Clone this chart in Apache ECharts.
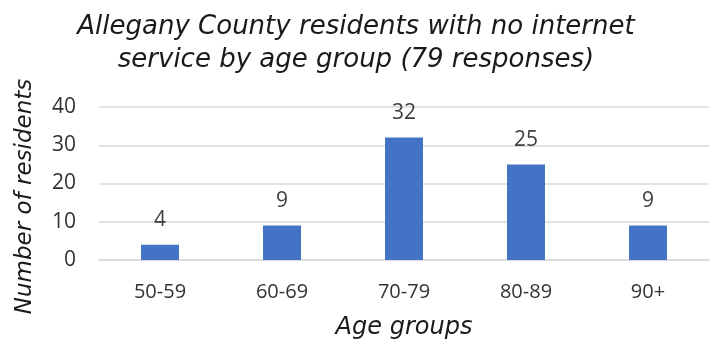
<!DOCTYPE html>
<html>
<head>
<meta charset="utf-8">
<script src="https://cdn.jsdelivr.net/npm/echarts@6/dist/echarts.min.js"></script>
<style>
  html, body { margin: 0; padding: 0; background: #fff; }
  #chart { width: 712px; height: 346px; }
</style>
</head>
<body>
<div id="chart"></div>
<script>
  var ageGroups = ['50-59', '60-69', '70-79', '80-89', '90+'];
  var residents = [4, 9, 32, 25, 9];

  var chart = echarts.init(document.getElementById('chart'));
  chart.setOption({
    title: {
      text: 'Allegany County residents with no internet\nservice by age group (79 responses)',
      left: 'center',
      top: 6,
      textStyle: {
        fontFamily: 'DejaVu Sans',
        fontStyle: 'italic',
        fontWeight: 'normal',
        fontSize: 26,
        lineHeight: 33,
        color: '#1a1a1a'
      }
    },
    grid: { left: 99, right: 3, top: 107, bottom: 86 },
    xAxis: {
      type: 'category',
      data: ageGroups,
      name: 'Age groups',
      nameLocation: 'middle',
      nameGap: 56,
      nameTextStyle: {
        fontFamily: 'DejaVu Sans', fontStyle: 'italic', fontSize: 24, color: '#1a1a1a'
      },
      axisLine: { lineStyle: { color: '#d9d9d9', width: 1.5 } },
      axisTick: { show: false },
      axisLabel: { fontFamily: 'Open Sans', fontSize: 20, color: '#333333', margin: 22 }
    },
    yAxis: {
      type: 'value',
      min: 0,
      max: 40,
      interval: 10,
      name: 'Number of residents',
      nameLocation: 'middle',
      nameGap: 62,
      nameTextStyle: {
        fontFamily: 'DejaVu Sans', fontStyle: 'italic', fontSize: 23, color: '#1a1a1a',
        padding: [0, 26, 0, 0]
      },
      axisLabel: { fontFamily: 'Open Sans', fontSize: 21, color: '#333333', margin: 23 },
      splitLine: { lineStyle: { color: '#d9d9d9', width: 1.5 } }
    },
    series: [{
      type: 'bar',
      data: residents,
      barWidth: 38,
      itemStyle: { color: '#4472c4' },
      label: {
        show: true,
        position: 'top',
        distance: 14,
        fontFamily: 'Open Sans',
        fontSize: 21,
        color: '#404040'
      }
    }]
  });
</script>
</body>
</html>
